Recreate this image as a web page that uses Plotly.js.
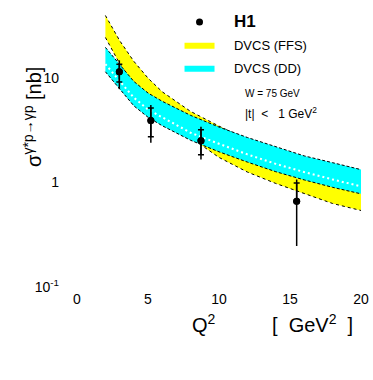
<!DOCTYPE html>
<html>
<head>
<meta charset="utf-8">
<script src="https://cdn.plot.ly/plotly-3.0.1.min.js"></script>
<style>html,body{margin:0;padding:0;background:#fff;}#plot{width:373px;height:380px;}</style>
</head>
<body>
<div id="plot"></div>
<script>
// Q^2 grid for the model bands (GeV^2)
const q2Grid = [2, 3, 4, 5, 6, 8, 10, 12, 14, 16, 18, 20];
// DVCS (FFS) band edges, nb
const ffsUpper = [39.8, 22.9, 14.5, 10.0, 7.4, 4.8, 3.47, 2.57, 2.04, 1.66, 1.38, 1.17];
const ffsLower = [24.5, 13.8, 8.7, 6.0, 4.47, 2.69, 1.74, 1.26, 0.98, 0.78, 0.63, 0.54];
// DVCS (DD) band edges and central curve, nb
const ddUpper = [19.7, 13.5, 9.3, 7.2, 6.0, 4.4, 3.4, 2.7, 2.2, 1.8, 1.55, 1.33];
const ddLower = [11.5, 7.85, 5.43, 4.22, 3.5, 2.54, 1.97, 1.57, 1.27, 1.06, 0.90, 0.78];
const ddCentral = [13.6, 9.3, 6.5, 5.0, 4.2, 3.0, 2.35, 1.86, 1.51, 1.26, 1.07, 0.92];
// H1 data
const h1Q2 = [2.98, 5.2, 8.73, 15.47];
const h1Sigma = [11.5, 3.92, 2.51, 0.664];
const h1TotPlus = [3.3, 1.61, 0.92, 0.406];
const h1TotMinus = [3.65, 1.51, 0.85, 0.417];
const h1StatPlus = [2.1, 1.26, 0.69, 0.326];
const h1StatMinus = [2.3, 1.18, 0.66, 0.0];
// axis ticks
const xTickVals = [0, 5, 10, 15, 20];
const yTickVals = [0.1, 1, 10];
const yTickText = ["10<sup>-1</sup>", "1", "10"];
// labels
const legendNames = ["\u00a0\u00a0\u00a0\u00a0<b><span style='font-size:17px'>H1</span></b>",
                     "\u00a0\u00a0\u00a0\u00a0DVCS (FFS)", "\u00a0\u00a0\u00a0\u00a0DVCS (DD)"];
const infoLines = ["W = 75 GeV", "|t|\u00a0\u00a0<\u00a0\u00a0 1 GeV<sup>2</sup>"];
const xTitleParts = ["Q<sup>2</sup>", "[\u00a0\u00a0GeV<sup>2</sup>\u00a0\u00a0]"];
const yTitle = "σ<sup>γ*p→γp</sup> [nb]";

function polyX(x) { return x.concat(x.slice().reverse()); }
function polyY(u, l) { return u.concat(l.slice().reverse()); }

const traces = [
  {x: polyX(q2Grid), y: polyY(ffsUpper, ffsLower), type: 'scatter', mode: 'lines', fill: 'toself',
   fillcolor: '#ffff00', line: {width: 0, color: '#ffff00'}, name: legendNames[1], legendrank: 2,
   legendgroup: 'ffs', hoverinfo: 'skip'},
  {x: q2Grid, y: ffsUpper, type: 'scatter', mode: 'lines', line: {color: '#000', width: 1, dash: 'dot'}, showlegend: false},
  {x: q2Grid, y: ffsLower, type: 'scatter', mode: 'lines', line: {color: '#000', width: 1, dash: 'dot'}, showlegend: false},
  {x: polyX(q2Grid), y: polyY(ddUpper, ddLower), type: 'scatter', mode: 'lines', fill: 'toself',
   fillcolor: '#00ffff', line: {width: 0, color: '#00ffff'}, name: legendNames[2], legendrank: 3,
   legendgroup: 'dd', hoverinfo: 'skip'},
  {x: q2Grid, y: ddUpper, type: 'scatter', mode: 'lines', line: {color: '#000', width: 1, dash: '3px,2px'}, showlegend: false},
  {x: q2Grid, y: ddLower, type: 'scatter', mode: 'lines', line: {color: '#000', width: 1, dash: '3px,2px'}, showlegend: false},
  {x: q2Grid, y: ddCentral, type: 'scatter', mode: 'lines', line: {color: '#fff', width: 2, dash: '2px,3px'}, showlegend: false},
  {x: h1Q2, y: h1Sigma, type: 'scatter', mode: 'markers', marker: {color: '#000', size: 7},
   error_y: {type: 'data', symmetric: false, array: h1TotPlus, arrayminus: h1TotMinus, color: '#000', thickness: 1.5, width: 0},
   name: legendNames[0], legendrank: 1, legendgroup: 'h1'},
  {x: h1Q2, y: h1Sigma, type: 'scatter', mode: 'markers', marker: {color: '#000', size: 7},
   error_y: {type: 'data', symmetric: false, array: h1StatPlus, arrayminus: h1StatMinus, color: '#000', thickness: 1.5, width: 3},
   showlegend: false}
];

const font = 'Liberation Sans, Arial, sans-serif';
const layout = {
  width: 373, height: 380,
  margin: {l: 77, r: 12, t: 5, b: 93},
  paper_bgcolor: '#fff', plot_bgcolor: '#fff',
  font: {family: font, color: '#000', size: 14},
  showlegend: true,
  legend: {x: 0.361, y: 0.993, xanchor: 'left', yanchor: 'top', bgcolor: 'rgba(0,0,0,0)',
           font: {family: font, size: 13, color: '#000'}, traceorder: 'grouped', tracegroupgap: 3, itemwidth: 30},
  xaxis: {range: [0, 20], tickvals: xTickVals, showgrid: false, zeroline: false, showline: false,
          ticks: '', tickfont: {size: 14}, ticklabelstandoff: 2},
  yaxis: {type: 'log', range: [-1, 1.7], tickvals: yTickVals, ticktext: yTickText, showgrid: false,
          zeroline: false, showline: false, ticks: '', tickfont: {size: 14}, ticklabelstandoff: 17},
  annotations: [
    {x: 11.7, y: 0.85, xref: 'x', yref: 'y', xanchor: 'left', text: infoLines[0], showarrow: false, font: {size: 10}},
    {x: 11.7, y: 0.67, xref: 'x', yref: 'y', xanchor: 'left', text: infoLines[1], showarrow: false, font: {size: 12}},
    {x: 0.398, y: -0.18, xref: 'paper', yref: 'paper', xanchor: 'left', text: xTitleParts[0], showarrow: false, font: {size: 20}},
    {x: 0.68, y: -0.18, xref: 'paper', yref: 'paper', xanchor: 'left', text: xTitleParts[1], showarrow: false, font: {size: 20}},
    {x: -0.21, y: 0.787, xref: 'paper', yref: 'paper', text: yTitle, textangle: -90, showarrow: false, font: {size: 20}}
  ]
};

Plotly.newPlot('plot', traces, layout, {displayModeBar: false, staticPlot: true});
</script>
</body>
</html>
